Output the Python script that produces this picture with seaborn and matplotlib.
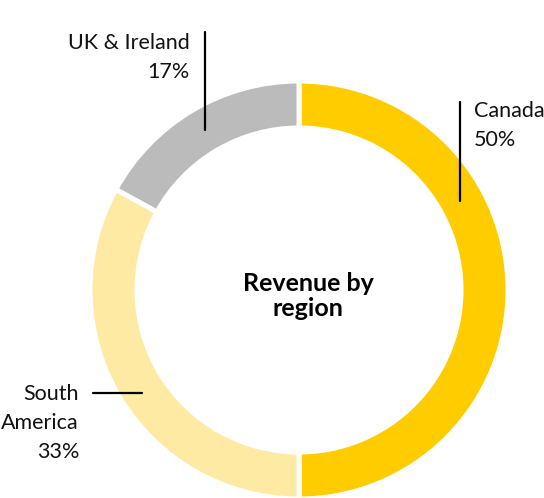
import matplotlib
matplotlib.use("Agg")
import matplotlib.pyplot as plt
import seaborn as sns

# data
regions = ["Canada", "South America", "UK & Ireland"]
shares = [50, 33, 17]
label_text = ["Canada\n50%", "South\nAmerica\n33%", "UK & Ireland\n17%"]
palette = ["#FFCC00", "#FFEAA3", "#BBBBBB"]

sns.set_theme(style="white")
plt.rcParams["font.family"] = ["Lato", "DejaVu Sans"]

W, H = 544, 498
fig = plt.figure(figsize=(W / 100, H / 100), dpi=100)
ax = fig.add_axes([0, 0, 1, 1])

cx, cy, R = 299, H - 290, 209
ax.pie(shares, colors=palette, startangle=90, counterclock=False,
       center=(cx, cy), radius=R, frame=True,
       wedgeprops=dict(width=47, edgecolor="white", linewidth=3.6))
ax.set_xlim(0, W)
ax.set_ylim(0, H)
ax.set_aspect("equal")
ax.axis("off")

ax.text(cx + 9, cy - 6, "Revenue by\nregion", ha="center", va="center",
        fontsize=18, fontweight="bold", color="black", linespacing=1.15)

fs = 15.5
# Canada
ax.plot([460, 460], [H - 102, H - 201], color="black", lw=1.6)
ax.text(474, H - 101, label_text[0], ha="left", va="top", fontsize=fs,
        linespacing=1.55, color="#111111")
# UK & Ireland
ax.plot([205, 205], [H - 32, H - 130], color="black", lw=1.6)
ax.text(190, H - 33, label_text[2], ha="right", va="top", fontsize=fs,
        linespacing=1.55, color="#111111", multialignment="right")
# South America
ax.plot([93, 142], [H - 393, H - 393], color="black", lw=1.6)
ax.text(79, H - 384, label_text[1], ha="right", va="top", fontsize=fs,
        linespacing=1.55, color="#111111", multialignment="right")

fig.savefig("out.png", dpi=100)
